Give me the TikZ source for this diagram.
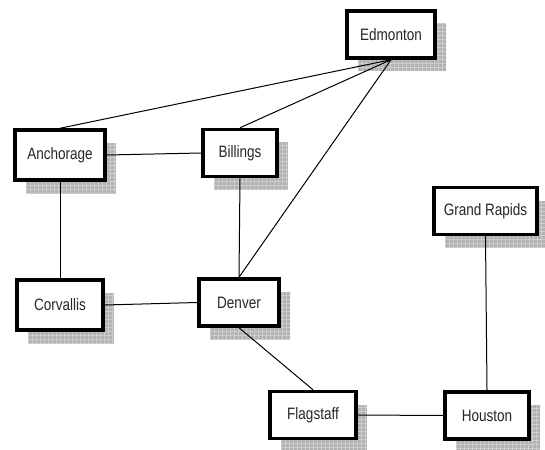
\documentclass[tikz,border=0pt]{standalone}
\usepackage{fontspec}
\setmainfont[FakeStretch=0.82]{Liberation Sans}
\usetikzlibrary{shadows}
\begin{document}
\begin{tikzpicture}[x=1pt, y=-1pt,
  city/.style={draw, line width=3.5pt, fill=white, minimum height=47pt,
    font=\fontsize{16.5}{18}\selectfont, text=black!85,
    general shadow={fill=gray!60, shadow xshift=11pt, shadow yshift=-13pt,
      path picture={\foreach \k in {0,4,...,120}{
        \draw[gray!40, line width=0.5pt]
          ([xshift=\k pt]path picture bounding box.south west) --
          ([xshift=\k pt]path picture bounding box.north west);
        \draw[gray!40, line width=0.5pt]
          ([yshift=\k pt]path picture bounding box.south west) --
          ([yshift=\k pt]path picture bounding box.south east);}}}},
  road/.style={line width=1pt}]
\useasboundingbox (0,0) rectangle (545,449);
% cities
\node[city, minimum width=88pt] (edm) at (391,34.5) {Edmonton};
\node[city, minimum width=90pt, minimum height=50pt] (anc) at (60,155) {Anchorage};
\node[city, minimum width=74pt] (bil) at (240,153) {Billings};
\node[city, minimum width=103pt] (gra) at (485.5,211) {Grand Rapids};
\node[city, minimum width=86pt, minimum height=50pt] (cor) at (60,305) {Corvallis};
\node[city, minimum width=80pt] (den) at (239,302.5) {Denver};
\node[city, minimum width=86pt] (fla) at (313,415) {Flagstaff};
\node[city, minimum width=84pt] (hou) at (487,415.5) {Houston};
% roads
\draw[road] (edm.south) -- (anc.north);
\draw[road] (edm.south) -- (bil.north);
\draw[road] (edm.south) -- (den.north);
\draw[road] (anc.east) -- (bil.west);
\draw[road] (anc.south) -- (cor.north);
\draw[road] (bil.south) -- (den.north);
\draw[road] (cor.east) -- (den.west);
\draw[road] (den.south) -- (fla.north);
\draw[road] (fla.east) -- (hou.west);
\draw[road] (hou.north) -- (gra.south);
\end{tikzpicture}
\end{document}
